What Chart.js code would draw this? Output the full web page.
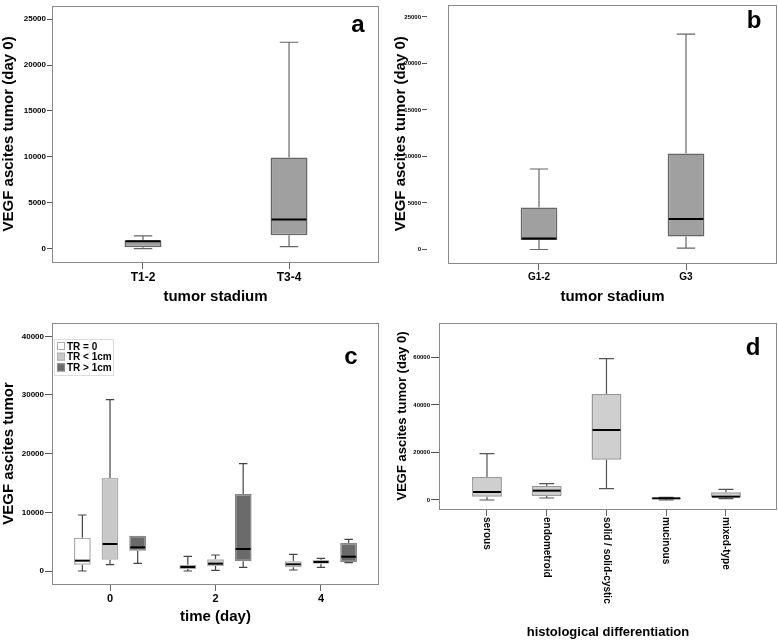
<!DOCTYPE html>
<html>
<head>
<meta charset="utf-8">
<script src="https://cdn.jsdelivr.net/npm/chart.js@4.4.1/dist/chart.umd.min.js"></script>
<style>
  body { margin: 0; background: #fff; }
  #wrap { position: relative; width: 778px; height: 641px; overflow: hidden; }
  .panel { position: absolute; }
  .panel canvas { display: block; }
</style>
</head>
<body>
<div id="wrap">
  <div class="panel" style="left:0;top:0"><canvas id="chartA" width="389" height="310"></canvas></div>
  <div class="panel" style="left:390px;top:0"><canvas id="chartB" width="388" height="310"></canvas></div>
  <div class="panel" style="left:0;top:300px"><canvas id="chartC" width="389" height="341"></canvas></div>
  <div class="panel" style="left:390px;top:300px"><canvas id="chartD" width="388" height="341"></canvas></div>
</div>
<script>
// a - T stadium
const tLabels = ['T1-2', 'T3-4'];
const tMin = [0, 210];
const tQ1 = [150, 1460];
const tMed = [800, 3170];
const tQ3 = [900, 9930];
const tMax = [1390, 22490];

// b - grading
const gLabels = ['G1-2', 'G3'];
const gMin = [0, 140];
const gQ1 = [1030, 1390];
const gMed = [1175, 3280];
const gQ3 = [4520, 10330];
const gMax = [8650, 23150];

const stageTicks = [0, 5000, 10000, 15000, 20000, 25000];

// c - tumor residue over time
const days = [0, 2, 4];
const trLabels = ['TR = 0', 'TR < 1cm', 'TR > 1cm'];
const tr0Min = [0, 0, 170];
const tr0Q1 = [1080, 340, 625];
const tr0Med = [1760, 680, 1140];
const tr0Q3 = [5680, 1080, 1650];
const tr0Max = [9545, 2500, 2840];
const trSmallMin = [1080, 110, 625];
const trSmallQ1 = [1930, 850, 1250];
const trSmallMed = [4600, 1250, 1530];
const trSmallQ3 = [15850, 1990, 1930];
const trSmallMax = [29200, 2730, 2160];
const trBigMin = [1300, 625, 1420];
const trBigQ1 = [3470, 1650, 1480];
const trBigMed = [4030, 3750, 2440];
const trBigQ3 = [6020, 13130, 4770];
const trBigMax = [6020, 18300, 5400];
const timeTicks = [0, 10000, 20000, 30000, 40000];

// d - histology
const histLabels = ['serous', 'endometroid', 'solid / solid-cystic', 'mucinous', 'mixed-type'];
const histMin = [0, 840, 4770, 0, 560];
const histQ1 = [1400, 1680, 16960, 420, 1120];
const histMed = [3360, 3930, 29440, 700, 1400];
const histQ3 = [9670, 5890, 44580, 980, 3220];
const histMax = [19490, 6870, 59500, 1120, 4490];
const histTicks = [0, 20000, 40000, 60000];

Chart.defaults.font.family = '"Liberation Sans", Arial, sans-serif';
Chart.defaults.color = '#000';

// whiskers, medians, frame, panel letter, legend and rotated labels
const boxPlot = {
  id: 'boxPlot',
  beforeDatasetsDraw(chart, args, opts) {
    const ctx = chart.ctx;
    const y = chart.scales.y;
    chart.data.datasets.forEach((ds, di) => {
      chart.getDatasetMeta(di).data.forEach((bar, i) => {
        const x = bar.x;
        const cap = bar.width * 0.25;
        const pq1 = y.getPixelForValue(ds.data[i].y[0]);
        const pq3 = y.getPixelForValue(ds.data[i].y[1]);
        const plo = y.getPixelForValue(ds.lo[i]);
        const phi = y.getPixelForValue(ds.hi[i]);
        ctx.save();
        ctx.strokeStyle = opts.whisker;
        ctx.lineWidth = 1.2;
        ctx.beginPath();
        if (ds.hi[i] > ds.data[i].y[1]) {
          ctx.moveTo(x, pq3); ctx.lineTo(x, phi);
          ctx.moveTo(x - cap, phi); ctx.lineTo(x + cap, phi);
        }
        if (ds.lo[i] < ds.data[i].y[0]) {
          ctx.moveTo(x, pq1); ctx.lineTo(x, plo);
          ctx.moveTo(x - cap, plo); ctx.lineTo(x + cap, plo);
        }
        ctx.stroke();
        ctx.restore();
      });
    });
  },
  afterDatasetsDraw(chart) {
    const ctx = chart.ctx;
    const y = chart.scales.y;
    chart.data.datasets.forEach((ds, di) => {
      chart.getDatasetMeta(di).data.forEach((bar, i) => {
        const pm = y.getPixelForValue(ds.med[i]);
        ctx.save();
        ctx.strokeStyle = '#000';
        ctx.lineWidth = 2;
        ctx.beginPath();
        ctx.moveTo(bar.x - bar.width / 2 + 1, pm);
        ctx.lineTo(bar.x + bar.width / 2 - 1, pm);
        ctx.stroke();
        ctx.restore();
      });
    });
  },
  afterDraw(chart, args, opts) {
    const ctx = chart.ctx;
    const a = chart.chartArea;
    ctx.save();
    ctx.strokeStyle = '#8a8a8a';
    ctx.lineWidth = 1;
    ctx.strokeRect(Math.round(a.left) + 0.5, Math.round(a.top) + 0.5, Math.round(a.right - a.left) - 1, Math.round(a.bottom - a.top));

    ctx.fillStyle = '#000';
    ctx.font = 'bold 24px "Liberation Sans", Arial, sans-serif';
    ctx.textAlign = 'center';
    ctx.textBaseline = 'alphabetic';
    ctx.fillText(opts.letter, a.right + opts.letterDx, a.top + opts.letterDy);

    if (opts.legend) {
      const lx = Math.round(a.left) + 2, ly = Math.round(a.top) + 16;
      ctx.strokeStyle = '#dddddd';
      ctx.strokeRect(lx + 0.5, ly + 0.5, 59, 36);
      ctx.font = 'bold 10px "Liberation Sans", Arial, sans-serif';
      ctx.textAlign = 'left';
      chart.data.datasets.forEach((ds, i) => {
        const bx = a.left + 5, by = a.top + 19 + i * 10.7;
        ctx.fillStyle = ds.backgroundColor;
        ctx.fillRect(bx, by, 8, 8);
        ctx.strokeStyle = ds.borderColor;
        ctx.strokeRect(bx + 0.5, by + 0.5, 7, 7);
        ctx.fillStyle = '#000';
        ctx.fillText(ds.label, bx + 10, by + 7.5);
      });
    }

    if (opts.rotated) {
      const xs = chart.scales.x;
      ctx.font = 'bold 10px "Liberation Sans", Arial, sans-serif';
      ctx.fillStyle = '#000';
      ctx.textAlign = 'left';
      ctx.textBaseline = 'middle';
      opts.rotated.forEach((lab, i) => {
        ctx.save();
        ctx.translate(xs.getPixelForValue(i), a.bottom + 8);
        ctx.rotate(Math.PI / 2);
        ctx.fillText(lab, 0, 0);
        ctx.restore();
      });
    }
    ctx.restore();
  }
};

function boxChart(id, o) {
  const datasets = o.series.map(s => ({
    label: s.label,
    data: o.xs.map((x, i) => ({ x: x, y: [s.q1[i], s.q3[i]] })),
    lo: s.lo,
    med: s.med,
    hi: s.hi,
    backgroundColor: s.fill,
    borderColor: s.border,
    borderWidth: 1.5,
    borderSkipped: false,
    barPercentage: o.barPct,
    categoryPercentage: o.catPct
  }));

  return new Chart(document.getElementById(id), {
    type: 'bar',
    data: { datasets: datasets },
    options: {
      responsive: false,
      animation: false,
      events: [],
      layout: { padding: o.pad },
      plugins: {
        legend: { display: false },
        tooltip: { enabled: false },
        boxPlot: {
          whisker: o.whisker,
          letter: o.letter,
          letterDx: o.letterPos[0],
          letterDy: o.letterPos[1],
          legend: !!o.legend,
          rotated: o.rotated || null
        }
      },
      scales: {
        x: {
          type: 'linear',
          offset: false,
          min: o.xMin,
          max: o.xMax,
          afterBuildTicks: s => { s.ticks = o.xs.map(v => ({ value: v })); },
          afterFit: s => { s.height = o.xH; },
          ticks: {
            display: !o.rotated,
            autoSkip: false,
            maxRotation: 0,
            padding: 1,
            font: { size: o.xFont, weight: 'bold' },
            callback: (v, i) => o.labels[i]
          },
          grid: { offset: false, drawOnChartArea: false, tickLength: 7, color: '#666' },
          border: { display: false },
          title: {
            display: true,
            text: o.xTitle,
            font: { size: o.xTitleSize, weight: 'bold' },
            padding: { top: 0, bottom: 0 }
          }
        },
        y: {
          min: o.yMin,
          max: o.yMax,
          afterBuildTicks: s => { s.ticks = o.yTicks.map(v => ({ value: v })); },
          afterFit: s => { s.width = o.yW; },
          ticks: {
            padding: 1,
            font: { size: o.yFont, weight: 'bold' },
            callback: v => String(v)
          },
          grid: {
            drawOnChartArea: false,
            tickLength: o.yTickLen,
            tickBorderDash: o.yDash || [],
            color: '#555'
          },
          border: { display: false },
          title: {
            display: true,
            text: o.yTitle,
            font: { size: o.yTitleSize, weight: 'bold' },
            padding: { top: o.yTitlePad, bottom: 0 }
          }
        }
      }
    },
    plugins: [boxPlot]
  });
}

boxChart('chartA', {
  xs: [0, 1], labels: tLabels, xMin: -0.623, xMax: 1.616,
  series: [{ label: 'VEGF', lo: tMin, q1: tQ1, med: tMed, q3: tQ3, hi: tMax, fill: '#a0a0a0', border: '#666' }],
  barPct: 0.253, catPct: 1, whisker: '#666',
  pad: { left: 0, top: 1, right: 10, bottom: 4 }, xH: 44, yW: 52,
  yMin: -1466, yMax: 26466, yTicks: stageTicks, yFont: 8, yTickLen: 5,
  xFont: 12, xTitle: 'tumor stadium', xTitleSize: 15,
  yTitle: 'VEGF ascites tumor (day 0)', yTitleSize: 15, yTitlePad: 0,
  letter: 'a', letterPos: [-21, 25.7]
});

boxChart('chartB', {
  xs: [0, 1], labels: gLabels, xMin: -0.619, xMax: 1.619,
  series: [{ label: 'VEGF', lo: gMin, q1: gQ1, med: gMed, q3: gQ3, hi: gMax, fill: '#a0a0a0', border: '#666' }],
  barPct: 0.25, catPct: 1, whisker: '#666',
  pad: { left: 0, top: 3, right: 1, bottom: 4 }, xH: 43, yW: 58,
  yMin: -1453, yMax: 26324, yTicks: stageTicks, yFont: 6, yTickLen: 26, yDash: [5, 60],
  xFont: 10, xTitle: 'tumor stadium', xTitleSize: 15,
  yTitle: 'VEGF ascites tumor (day 0)', yTitleSize: 15, yTitlePad: 1.5,
  letter: 'b', letterPos: [-23, 23.7]
});

boxChart('chartC', {
  xs: days, labels: days.map(String), xMin: -1.1, xMax: 5.1,
  series: [
    { label: trLabels[0], lo: tr0Min, q1: tr0Q1, med: tr0Med, q3: tr0Q3, hi: tr0Max, fill: '#ffffff', border: '#aaaaaa' },
    { label: trLabels[1], lo: trSmallMin, q1: trSmallQ1, med: trSmallMed, q3: trSmallQ3, hi: trSmallMax, fill: '#c8c8c8', border: '#b0b0b0' },
    { label: trLabels[2], lo: trBigMin, q1: trBigQ1, med: trBigMed, q3: trBigQ3, hi: trBigMax, fill: '#6b6b6b', border: '#888888' }
  ],
  barPct: 0.61, catPct: 0.787, whisker: '#444', legend: true,
  pad: { left: 0, top: 23, right: 10, bottom: 15 }, xH: 42, yW: 52,
  yMin: -2215, yMax: 42270, yTicks: timeTicks, yFont: 8, yTickLen: 7,
  xFont: 11, xTitle: 'time (day)', xTitleSize: 15,
  yTitle: 'VEGF ascites tumor', yTitleSize: 15, yTitlePad: 0,
  letter: 'c', letterPos: [-28, 40.6]
});

boxChart('chartD', {
  xs: [0, 1, 2, 3, 4], labels: histLabels, rotated: histLabels, xMin: -0.803, xMax: 4.854,
  series: [{ label: 'VEGF', lo: histMin, q1: histQ1, med: histMed, q3: histQ3, hi: histMax, fill: '#cfcfcf', border: '#999' }],
  barPct: 0.5, catPct: 1, whisker: '#555',
  pad: { left: 0, top: 23, right: 1, bottom: 1 }, xH: 131, yW: 49,
  yMin: -3790, yMax: 74470, yTicks: histTicks, yFont: 6, yTickLen: 8,
  xFont: 10, xTitle: 'histological differentiation', xTitleSize: 13,
  yTitle: 'VEGF ascites tumor (day 0)', yTitleSize: 13, yTitlePad: 5,
  letter: 'd', letterPos: [-24, 32]
});
</script>
</body>
</html>
